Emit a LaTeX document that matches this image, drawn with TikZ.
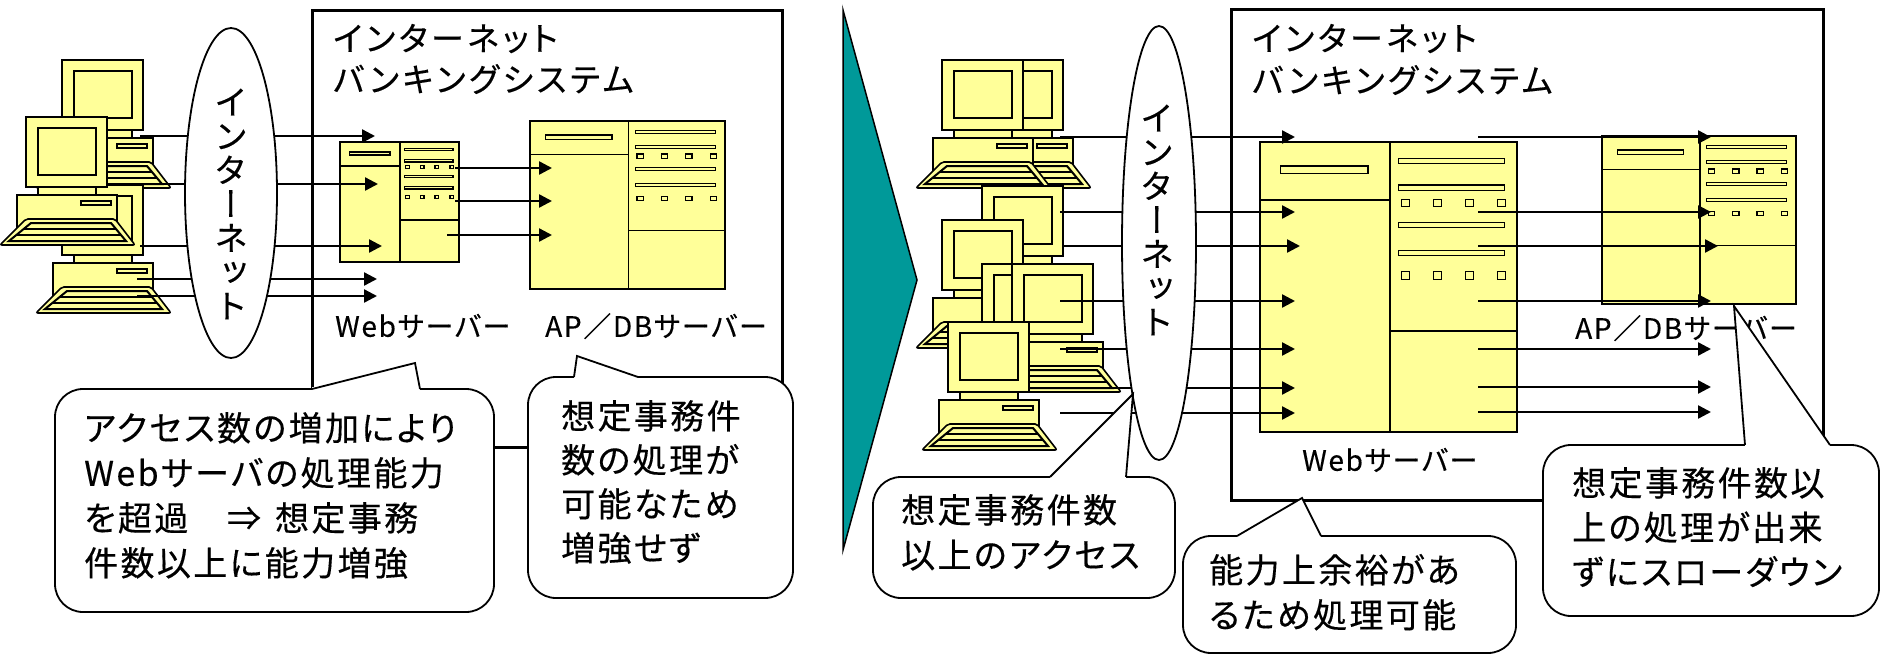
\documentclass[tikz,border=0pt]{standalone}
\usepackage{fontspec}
\usetikzlibrary{arrows.meta,shapes.geometric}
\newfontfamily\jp[RawFeature=+palt,LetterSpace=7,FakeBold=0.35]{Noto Sans CJK JP}
\newfontfamily\jpttl[RawFeature=+palt,LetterSpace=11,FakeBold=0.3]{Noto Sans CJK JP}
\newfontfamily\jplbl[RawFeature=+palt,LetterSpace=6,FakeBold=0.25]{Noto Sans CJK JP}
\newfontfamily\jpvert[RawFeature=+vert,FakeBold=0.3]{Noto Sans CJK JP}
\definecolor{pcyellow}{HTML}{FFFF99}
\definecolor{chevron}{HTML}{009999}

% desktop computer icon, origin = top-left corner of the monitor
\newcommand\pc[2]{%
  \begin{scope}[shift={(#1,#2)}]
    \draw[yel] (0,0) rectangle (81,70);
    \draw[yel] (12,11) rectangle (70,58);
    \draw[yel] (12,70) rectangle (70,78);
    \draw[yel] (-9,78) rectangle (91,120);
    \draw[yel,line width=1.2pt] (55,84) rectangle (85,88);
    \draw[yel,rounded corners=2pt] (0,102) -- (89,102) -- (109,128) -- (-26,128) -- cycle;
    \draw[yel,line width=2pt] (5,106) -- (85,106) -- (100,124) -- (-17,124) -- cycle;
    \draw[line width=1.8pt] (-2,112) -- (90,112) (-9,118) -- (95,118);
  \end{scope}}

% rack server icon: top-left corner, width, height
\newcommand\server[4]{%
  \begin{scope}[shift={(#1,#2)},x=#3pt,y=-#4pt]
    \draw[yel] (0,0) rectangle (1,1);
    \draw[line width=1.6pt] (0.505,0) -- (0.505,1) (0,0.2) -- (0.505,0.2) (0.505,0.652) -- (1,0.652);
    \draw[yel,line width=1.2pt] (0.08,0.083) rectangle (0.42,0.108);
    \foreach \yy in {0.065,0.157,0.287,0.382}
      \draw[yel,line width=1.2pt] (0.54,{\yy-0.009}) rectangle (0.95,{\yy+0.009});
    \foreach \yy in {0.21,0.46}
      \foreach \xx in {0.565,0.69,0.815,0.94}
        \draw[yel,line width=1.2pt] ({\xx-0.016},{\yy-0.013}) rectangle ({\xx+0.016},{\yy+0.013});
  \end{scope}}

% speech balloon: x0,y0,x1,y1, tail base left, tip x, tip y, tail base right
\newcommand\balloon[8]{%
  \draw[call] (#1,#2) rectangle (#3,#4);
  \fill[white] (#5,{#2-2.5}) rectangle (#8,{#2+2.5});
  \fill[white] (#5,#2) -- (#6,#7) -- (#8,#2) -- cycle;
  \draw[tail] (#5,#2) -- (#6,#7) -- (#8,#2);}

\begin{document}
\begin{tikzpicture}[x=1pt,y=-1pt,
  yel/.style={fill=pcyellow,draw=black,line width=1.6pt},
  frame/.style={draw=black,line width=3pt},
  arr/.style={line width=2.4pt,-{Triangle[length=13pt,width=13pt]}},
  net/.style={ellipse,draw=black,fill=white,line width=1.8pt,inner sep=0pt},
  call/.style={draw=black,fill=white,line width=1.8pt,rounded corners=28pt},
  tail/.style={draw=black,line width=1.8pt},
  vtxt/.style={font=\jpvert\fontsize{34}{34}\selectfont,align=center,inner sep=0pt},
  ttl/.style={anchor=west,inner sep=0pt,font=\jpttl\fontsize{33}{36}\selectfont,text height=.85em,text depth=.1em},
  lbl/.style={anchor=west,inner sep=0pt,font=\jplbl\fontsize{28}{32}\selectfont,text height=.85em,text depth=.1em},
  cl/.style={anchor=west,inner sep=0pt,font=\jp\fontsize{34}{38}\selectfont,text height=.85em,text depth=.1em}]

\fill[white] (0,0) rectangle (1880,656);
\useasboundingbox (0,0) rectangle (1880,656);

% ---------- before: system frame, titles, servers ----------
\draw[frame] (312,10) rectangle (782,447);
\node[ttl] (ttlA1) at (333,47) {インターネット};
\node[ttl] (ttlA2) at (333,88) {バンキングシステム};
\server{340}{142}{119}{120}
\server{530}{121}{195}{168}
\node[lbl] (webA) at (335,333) {Webサーバー};
\node[lbl] (dbA) at (545,333) {AP／DBサーバー};

% ---------- after: system frame, titles, servers ----------
\draw[frame] (1231,9) rectangle (1823,500);
\node[ttl] (ttlB1) at (1252,47) {インターネット};
\node[ttl] (ttlB2) at (1252,89) {バンキングシステム};
\server{1260}{142}{257}{290}
\server{1602}{136}{194}{168}
\node[lbl] (webB) at (1302,467) {Webサーバー};
\node[lbl] (dbB) at (1575,335) {AP／DBサーバー};

% ---------- clients ----------
\pc{62}{60}
\pc{62}{185}
\pc{26}{117}

\pc{982}{60}
\pc{942}{60}
\pc{982}{186}
\pc{942}{220}
\pc{982}{264}
\pc{1012}{264}
\pc{948}{322}

% ---------- requests ----------
\foreach \ys/\xs/\xe [count=\i] in {136/140/375,184/137/378,246/140/382,279/137/377,296/137/377}{
  \coordinate (ra\i) at (\xs,\ys); \coordinate (rb\i) at (\xe,\ys);
  \draw[arr] (ra\i) -- (rb\i);}
\foreach \ys/\xs/\xe [count=\i] in {168/455/552,201/455/552,235/447/552}{
  \coordinate (sa\i) at (\xs,\ys); \coordinate (sb\i) at (\xe,\ys);
  \draw[arr] (sa\i) -- (sb\i);}
\foreach \ys/\xs/\xe [count=\i] in {137/1060/1295,212/1060/1295,246/1063/1300,301/1060/1295,349/1060/1295,388/1060/1295,413/1060/1295}{
  \coordinate (rc\i) at (\xs,\ys); \coordinate (rd\i) at (\xe,\ys);
  \draw[arr] (rc\i) -- (rd\i);}
\foreach \ys/\xs/\xe [count=\i] in {137/1478/1711,212/1478/1711,246/1478/1718,301/1478/1711,349/1478/1711,387/1478/1711,412/1478/1711}{
  \coordinate (sc\i) at (\xs,\ys); \coordinate (sd\i) at (\xe,\ys);
  \draw[arr] (sc\i) -- (sd\i);}

% ---------- internet clouds ----------
\node[net,minimum width=92pt,minimum height=330pt] (netA) at (231,193) {};
\node[vtxt] (netAtxt) at (231,204) {イ\\ン\\タ\\ー\\ネ\\ッ\\ト};
\node[net,minimum width=74pt,minimum height=434pt] (netB) at (1159,243) {};
\node[vtxt] (netBtxt) at (1157,220) {イ\\ン\\タ\\ー\\ネ\\ッ\\ト};

% ---------- transition chevron ----------
\filldraw[fill=chevron,draw=black,line width=1.5pt] (843,10) -- (917,280) -- (843,550) -- cycle;

% ---------- balloons ----------
\balloon{55}{389}{494}{612}{312}{415}{363}{420}
\foreach \t [count=\i] in {アクセス数の増加により,Webサーバの処理能力,を超過　⇒\hspace{14pt}想定事務,件数以上に能力増強}
  \node[cl] (bA\i) at (84,{437+45*(\i-1)}) {\t};

\balloon{528}{377}{793}{598}{574}{577}{356}{638}
\foreach \t [count=\i] in {想定事務件,数の処理が,可能なため,増強せず}
  \node[cl] (bB\i) at (561,{425+44*(\i-1)}) {\t};

\balloon{873}{477}{1175}{598}{1050}{1133}{394}{1126}
\foreach \t [count=\i] in {想定事務件数,以上のアクセス}
  \node[cl] (bC\i) at (901,{519+45*(\i-1)}) {\t};

\balloon{1183}{536}{1516}{653}{1237}{1302}{498}{1321}
\foreach \t [count=\i] in {能力上余裕があ,るため処理可能}
  \node[cl] (bD\i) at (1209,{579+45*(\i-1)}) {\t};

\balloon{1543}{445}{1879}{616}{1745}{1734}{306}{1830}
\foreach \t [count=\i] in {想定事務件数以,上の処理が出来,ずにスローダウン}
  \node[cl] (bE\i) at (1572,{492+44.5*(\i-1)}) {\t};

\end{tikzpicture}
\end{document}
